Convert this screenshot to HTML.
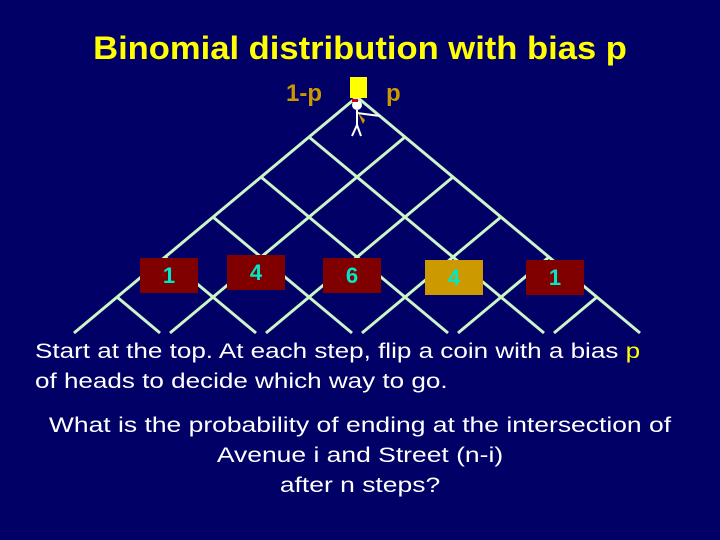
<!DOCTYPE html>
<html><head><style>
html,body{margin:0;padding:0;}
body{width:720px;height:540px;background:#000066;position:relative;overflow:hidden;font-family:"Liberation Sans",sans-serif;}
.t{position:absolute;white-space:nowrap;}
.box{position:absolute;width:58px;height:35px;background:#800000;color:#00e8c8;font-size:22px;font-weight:bold;text-align:center;line-height:35px;}
.c{left:0;width:720px;text-align:center;}
</style></head><body>
<svg width="720" height="540" style="position:absolute;left:0;top:0">
<g stroke="#ccf5c8" stroke-width="3" fill="none">
<line x1="357" y1="97" x2="640" y2="333"/><line x1="357" y1="97" x2="74" y2="333"/>
<line x1="309" y1="137" x2="544" y2="333"/><line x1="405" y1="137" x2="170" y2="333"/>
<line x1="261" y1="177" x2="448" y2="333"/><line x1="453" y1="177" x2="266" y2="333"/>
<line x1="213" y1="217" x2="352" y2="333"/><line x1="501" y1="217" x2="362" y2="333"/>
<line x1="165" y1="257" x2="256" y2="333"/><line x1="549" y1="257" x2="458" y2="333"/>
<line x1="117" y1="297" x2="160" y2="333"/><line x1="597" y1="297" x2="554" y2="333"/>
</g>
<rect x="350" y="77" width="17" height="21" fill="#ffff00"/>
<g stroke="#fff" stroke-width="2" fill="none">
<circle cx="357" cy="105" r="4" fill="#fff"/>
<line x1="357" y1="110" x2="357" y2="125"/>
<line x1="357" y1="113" x2="380" y2="116"/>
<line x1="357" y1="125" x2="352" y2="136"/><line x1="357" y1="125" x2="361" y2="136"/>
</g>
<path d="M358 113 L365 120 L363 124 Z" fill="#cc9900"/>
<rect x="352" y="99" width="6" height="3" fill="#cc0000"/>
</svg>
<div class="t c" style="top:30px;font-size:32px;color:#ffff00;font-weight:bold;transform:scaleX(1.08);">Binomial distribution with bias p</div>
<div class="t" style="left:286px;top:80px;font-size:24px;color:#cc9900;font-weight:bold;">1-p</div>
<div class="t" style="left:386px;top:80px;font-size:24px;color:#cc9900;font-weight:bold;">p</div>
<div class="box" style="left:140px;top:258px;">1</div>
<div class="box" style="left:227px;top:255px;">4</div>
<div class="box" style="left:323px;top:258px;">6</div>
<div class="box" style="left:425px;top:260px;background:#cc9900;">4</div>
<div class="box" style="left:526px;top:260px;">1</div>
<div class="t" style="left:35px;top:340px;font-size:21px;color:#fff;transform:scaleX(1.24);transform-origin:0 0;">Start at the top. At each step, flip a coin with a bias <span style="color:#ffff00">p</span></div>
<div class="t" style="left:35px;top:370px;font-size:21px;color:#fff;transform:scaleX(1.24);transform-origin:0 0;">of heads to decide which way to go.</div>
<div class="t c" style="top:414px;font-size:21px;color:#fff;transform:scaleX(1.26);">What is the probability of ending at the intersection of</div>
<div class="t c" style="top:444px;font-size:21px;color:#fff;transform:scaleX(1.26);">Avenue i and Street (n-i)</div>
<div class="t c" style="top:474px;font-size:21px;color:#fff;transform:scaleX(1.26);">after n steps?</div>
</body></html>
